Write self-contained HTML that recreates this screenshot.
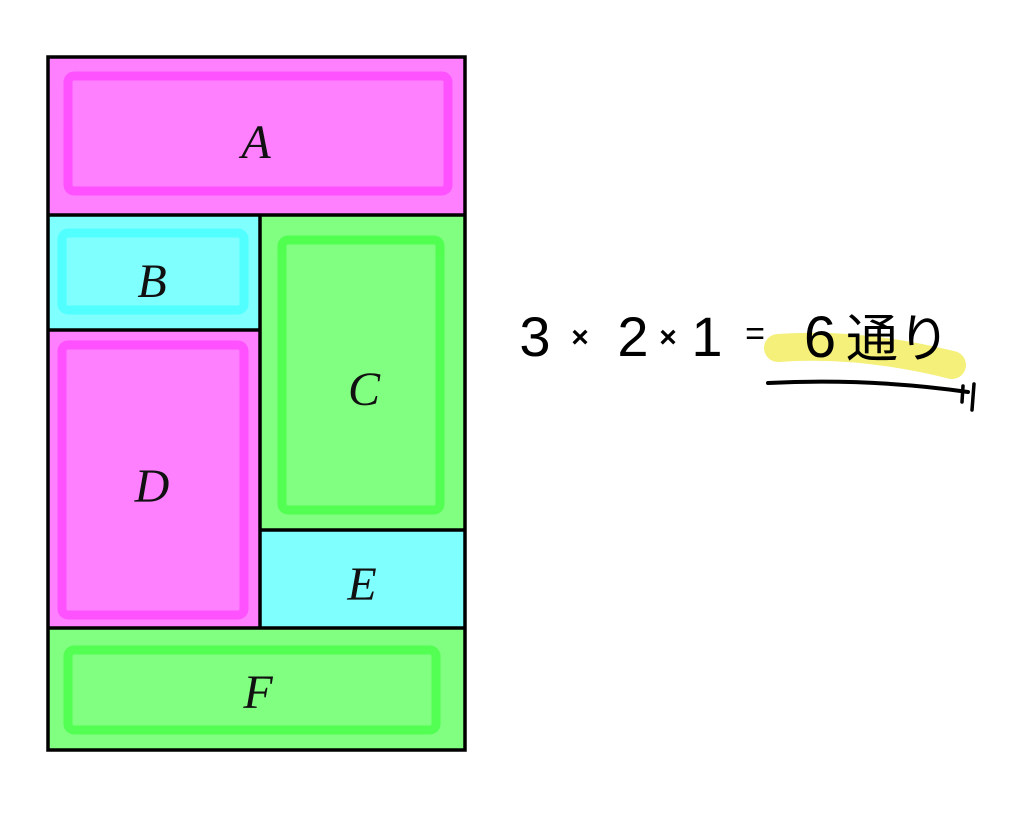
<!DOCTYPE html>
<html><head><meta charset="utf-8"><style>
html,body{margin:0;padding:0;background:#fff;width:1024px;height:825px;overflow:hidden}
</style></head><body>
<svg width="1024" height="825" xmlns="http://www.w3.org/2000/svg">
<g stroke="none">
<rect x="48" y="57" width="417" height="158" fill="#ff80ff"/>
<rect x="48" y="215" width="212" height="115" fill="#80ffff"/>
<rect x="260" y="215" width="205" height="315" fill="#80ff80"/>
<rect x="48" y="330" width="212" height="298" fill="#ff80ff"/>
<rect x="260" y="530" width="205" height="98" fill="#80ffff"/>
<rect x="48" y="628" width="417" height="122" fill="#80ff80"/>
</g>
<g fill="none" stroke-width="9" stroke-linejoin="round" opacity="0.6">
<rect x="68" y="76" width="380" height="115" stroke="#ff33ff" rx="6"/>
<rect x="62" y="233" width="182" height="77" stroke="#33ffff" rx="6"/>
<rect x="282" y="240" width="158" height="270" stroke="#33ff33" rx="6"/>
<rect x="62" y="345" width="182" height="270" stroke="#ff33ff" rx="6"/>
<rect x="68" y="650" width="368" height="80" stroke="#33ff33" rx="6"/>
</g>
<g fill="none" stroke="#000" stroke-width="3.5">
<rect x="48" y="57" width="417" height="693"/>
<line x1="48" y1="215" x2="465" y2="215"/>
<line x1="260" y1="215" x2="260" y2="628"/>
<line x1="48" y1="330" x2="260" y2="330"/>
<line x1="260" y1="530" x2="465" y2="530"/>
<line x1="48" y1="628" x2="465" y2="628"/>
</g>
<g font-family="Liberation Serif, serif" font-style="italic" font-size="48" text-anchor="middle" fill="#111">
<text x="256" y="158">A</text>
<text x="152" y="297">B</text>
<text x="364" y="405">C</text>
<text x="152" y="502">D</text>
<text x="362" y="600">E</text>
<text x="258" y="708">F</text>
</g>
<path d="M778 348 Q860 342 952 365" stroke="#f5f07a" stroke-width="28" stroke-linecap="round" fill="none"/>
<path d="M768 383 Q870 378 968 392" stroke="#000" stroke-width="4" stroke-linecap="round" fill="none"/>
<path d="M963 386 L962 402 M974 384 L972 410" stroke="#000" stroke-width="3.5" stroke-linecap="round" fill="none"/>
<g font-family="Liberation Sans, 'Noto Sans CJK JP', sans-serif" fill="#000" text-anchor="middle">
<text x="535" y="356" font-size="56">3</text>
<text x="580" y="347" font-size="30" font-weight="bold">×</text>
<text x="633" y="356" font-size="56">2</text>
<text x="668" y="347" font-size="30" font-weight="bold">×</text>
<text x="707" y="356" font-size="56">1</text>
<text x="755" y="345" font-size="34">=</text>
<text x="820" y="357" font-size="58">6</text>
<text x="872" y="357" font-size="52">通</text>
<text x="924" y="357" font-size="52">り</text>
</g>
</svg>
</body></html>
